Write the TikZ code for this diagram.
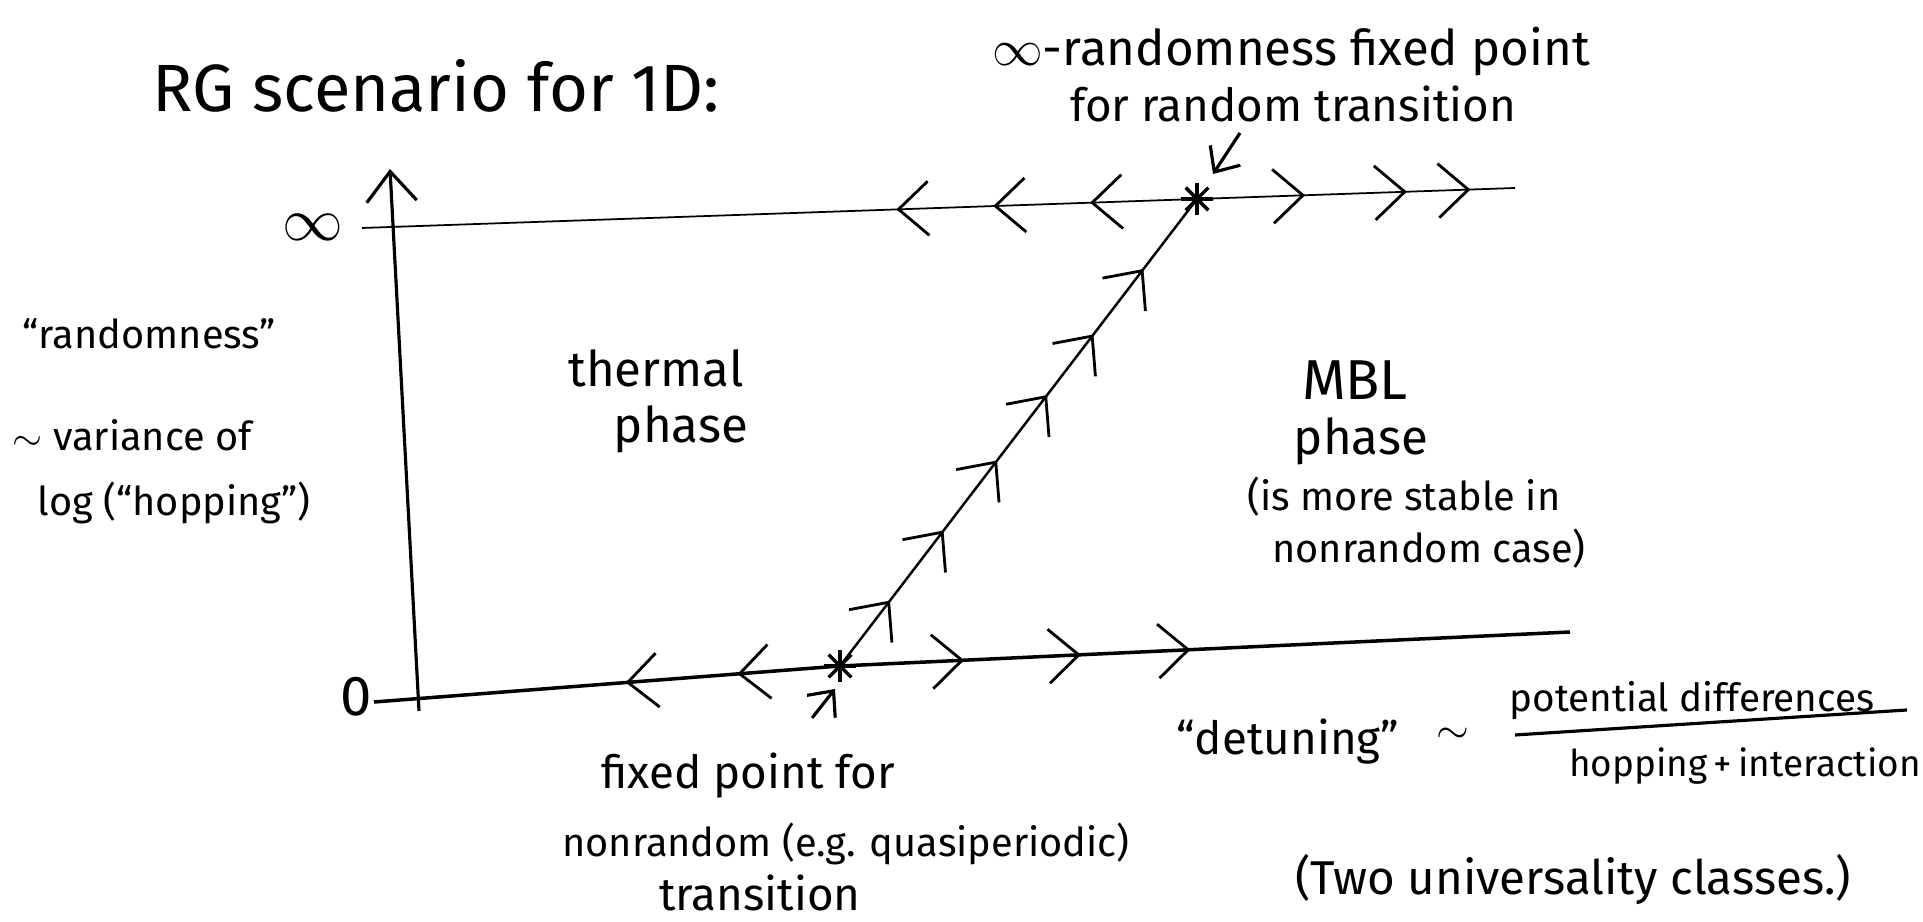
\documentclass[tikz,border=0pt]{standalone}
\usepackage{fontspec}
\setmainfont{Fira Sans}
\usepackage{tikz}
\usetikzlibrary{positioning,arrows.meta,decorations.markings}

\tikzset{
  chev/.tip={Straight Barb[length=3mm,width=5.4mm,line width=0.8pt]},
  ptr/.tip={Straight Barb[length=2mm,width=3.6mm,line width=0.9pt]}
}

\begin{document}
\begin{tikzpicture}[x=0.01cm,y=-0.01cm,
    hand/.style={font=\fontsize{13}{15}\selectfont,inner sep=0},
    small/.style={font=\fontsize{11.3}{13}\selectfont,inner sep=0},
    big/.style={font=\fontsize{19}{22}\selectfont,inner sep=0},
    chevat/.style={postaction={decorate,decoration={markings,mark=at position #1 with {\arrow{chev}}}}},
    fixpt/.pic={\foreach \a in {0,45,90,135} \draw[line width=1pt] (\a:16) -- (\a+180:16);}
]
\useasboundingbox (0,0) rectangle (1923,922);

% title
\node[big] (title) at (436,86) {RG scenario for 1D:};

% axis
\coordinate (ybot) at (419,711);
\coordinate (ytop) at (390,169);
\draw[line width=0.9pt,-{Straight Barb[length=3mm,width=5mm]}] (ybot) -- (ytop);
\node[big] (inf) at (313,227) {$\infty$};
\node[font=\fontsize{16}{18}\selectfont,inner sep=0] (zero) at (356,697) {0};

% fixed points and flow lines
\coordinate (fprand) at (1197,199);
\coordinate (fpqp) at (840,666);
\coordinate (topL) at (362,228);
\coordinate (topR) at (1515,188);
\coordinate (botL) at (374,702);
\coordinate (botR) at (1570,632);

\draw[line width=0.5pt,chevat=0.128,chevat=0.244,chevat=0.36] (fprand) -- (topL);
\draw[line width=0.5pt,chevat=0.34,chevat=0.66,chevat=0.86] (fprand) -- (topR);
\draw[line width=1pt,chevat=0.22,chevat=0.46] (fpqp) -- (botL);
\draw[line width=1pt,chevat=0.17,chevat=0.33,chevat=0.48] (fpqp) -- (botR);
\draw[line width=0.7pt,chevat=0.14,chevat=0.29,chevat=0.44,chevat=0.58,chevat=0.71,chevat=0.85] (fpqp) -- (fprand);
\pic at (fprand) {fixpt};
\pic at (fpqp) {fixpt};

% top label
\node[font=\fontsize{14}{16}\selectfont,inner sep=0] (toplbl1) at (1291,52) {$\infty$-randomness fixed point};
\node[hand] (toplbl2) at (1293,104) {for random transition};
\coordinate (ptrtop) at (1240,133);
\coordinate (ptrtopend) at (1213,174);
\draw[line width=0.9pt,-ptr] (ptrtop) -- (ptrtopend);

% y label
\node[small,anchor=west] (rnd) at (22,334) {“randomness”};
\node[small,anchor=west] (var) at (12,435) {$\sim$ variance of};
\node[small,anchor=west] (loghop) at (37,503) {log (“hopping”)};

% phases
\node[font=\fontsize{14}{16}\selectfont,inner sep=0] (therm) at (656,368) {thermal};
\node[font=\fontsize{14}{16}\selectfont,inner sep=0] (thermph) at (681,429) {phase};
\node[font=\fontsize{16}{18}\selectfont,inner sep=0] (mbl) at (1355,380) {MBL};
\node[font=\fontsize{14}{16}\selectfont,inner sep=0] (mblph) at (1361,441) {phase};
\node[small] (stab1) at (1404,497) {(is more stable in};
\node[small] (stab2) at (1429,549) {nonrandom case)};

% bottom label
\coordinate (ptrbot) at (812,718);
\coordinate (ptrbotend) at (835,689);
\draw[line width=0.9pt,-ptr] (ptrbot) -- (ptrbotend);
\node[hand] (qp1) at (748,776) {fixed point for};
\node[small] (qp2) at (846,844) {nonrandom (e.g. quasiperiodic)};
\node[hand] (qp3) at (760,893) {transition};

% x label
\node[hand] (detun) at (1288,742) {“detuning”};
\node[hand] (sim) at (1453,736) {$\sim$};
\node[font=\fontsize{11}{13}\selectfont,inner sep=0] (num) at (1692,701) {potential differences};
\coordinate (fracL) at (1515,735);
\coordinate (fracR) at (1907,710);
\draw[line width=0.9pt] (fracL) -- (fracR);
\node[font=\fontsize{10.5}{12}\selectfont,inner sep=0] (den) at (1745,766) {hopping\,+\,interaction};
\node[font=\fontsize{13.5}{15}\selectfont,inner sep=0] (classes) at (1573,880) {(Two universality classes.)};
\end{tikzpicture}
\end{document}
